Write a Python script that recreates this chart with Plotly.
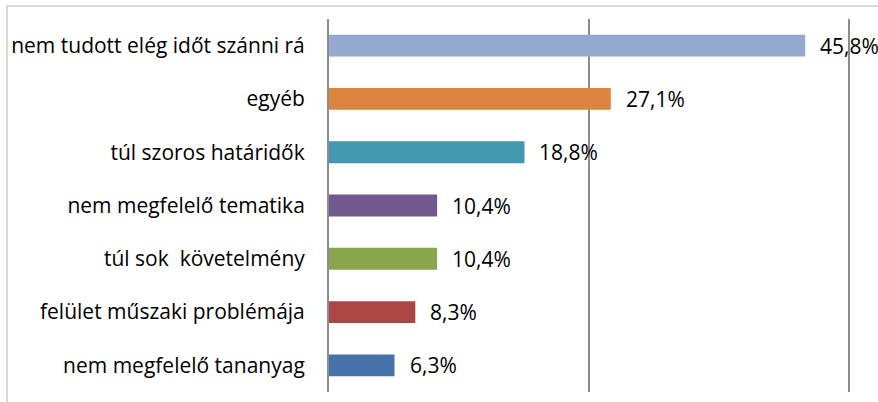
import plotly.graph_objects as go

categories = [
    "nem tudott elég időt szánni rá",
    "egyéb",
    "túl szoros határidők",
    "nem megfelelő tematika",
    "túl sok  követelmény",
    "felület műszaki problémája",
    "nem megfelelő tananyag",
]
values = [45.8, 27.1, 18.8, 10.4, 10.4, 8.3, 6.3]
colors = ["#93A9CF", "#DB843D", "#4198AF", "#71588F", "#89A54E", "#AA4643", "#4572A7"]
value_labels = [f"{v:.1f}%".replace(".", ",") for v in values]

FONT = "Open Sans"
FS = 21

fig = go.Figure()
fig.add_trace(go.Bar(
    x=values, y=categories, orientation="h",
    marker=dict(color=colors, line=dict(width=0)),
    hoverinfo="skip",
))

for c, v, t in zip(categories, values, value_labels):
    fig.add_annotation(x=v, y=c, text=t, showarrow=False, xanchor="left",
                       xshift=13, font=dict(family=FONT, size=FS, color="#000000"))

# outer chart border (light grey)
bx = (7 - 329) / 522
by = 1 + (19 - 6) / 373
fig.add_shape(type="path", xref="paper", yref="paper",
              path=f"M {bx},-0.2 L {bx},{by} L 1.1,{by}",
              line=dict(color="#D9D9D9", width=2), layer="above")

fig.update_layout(
    width=878, height=402,
    margin=dict(l=329, r=27, t=19, b=10, autoexpand=False),
    paper_bgcolor="white", plot_bgcolor="white",
    bargap=0.59,
    showlegend=False,
    xaxis=dict(range=[0, 50.2], tick0=0, dtick=25, showgrid=True, gridcolor="#8C8C8C",
               gridwidth=2, showticklabels=False, zeroline=False,
               showline=False, ticks=""),
    yaxis=dict(autorange="reversed", showline=True, linecolor="#8C8C8C",
               linewidth=2, ticks="", ticklabelstandoff=18, automargin=False,
               tickfont=dict(family=FONT, size=FS, color="#000000")),
)

fig.write_html("out.html", config={"displayModeBar": False},
               post_script="document.body.style.margin='0';")
